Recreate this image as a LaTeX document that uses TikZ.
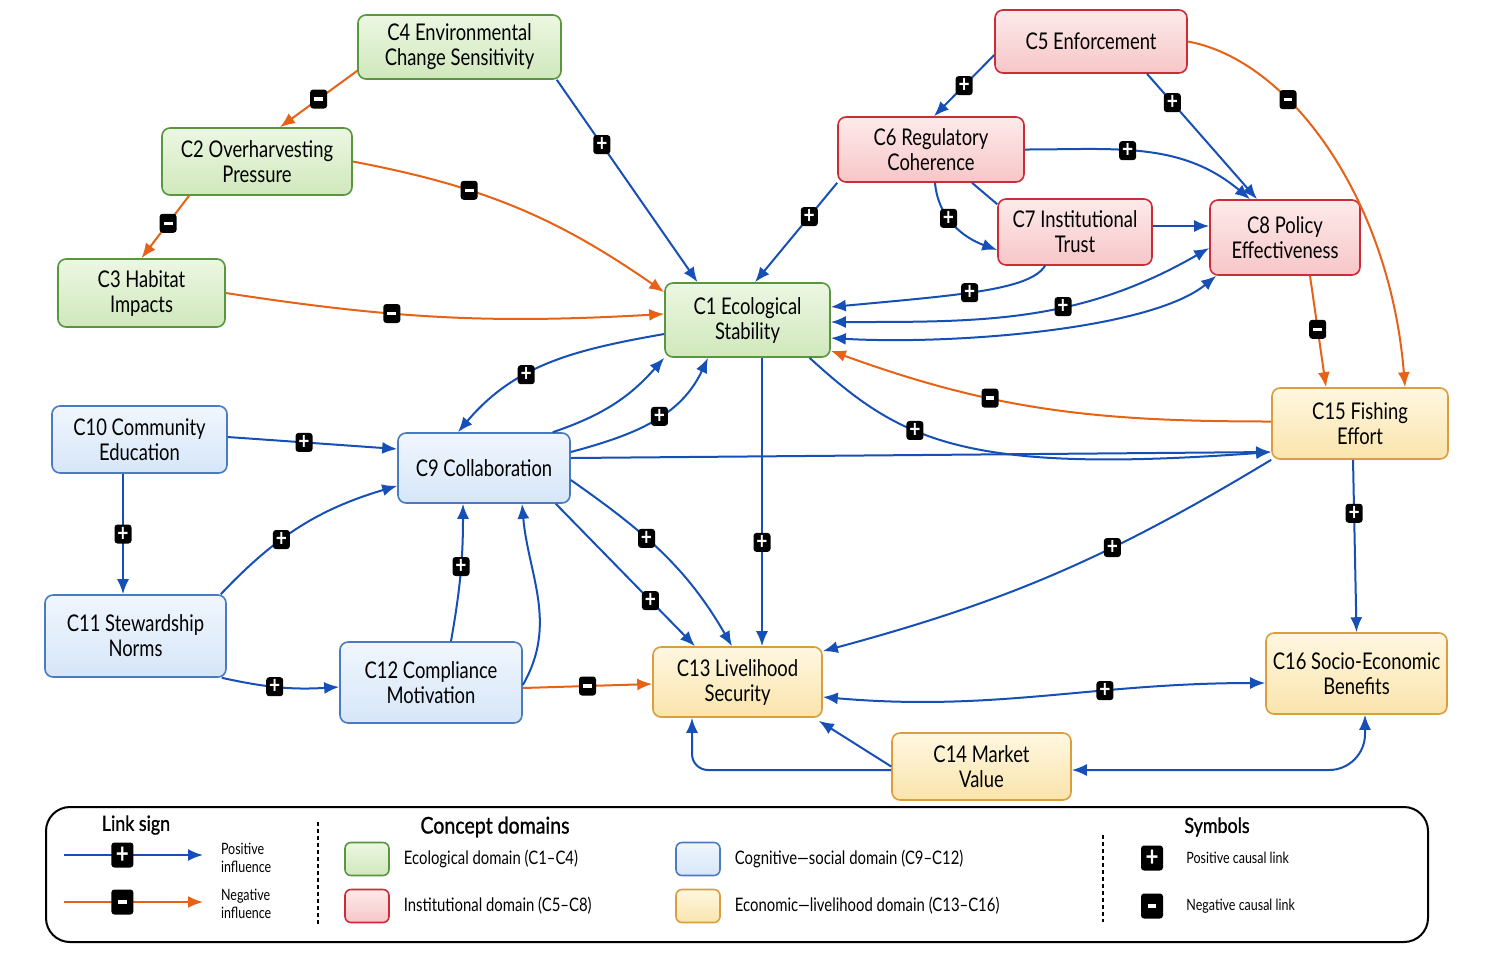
\documentclass[tikz,border=0pt]{standalone}
\usepackage{fontspec}
\setmainfont{Lato}[FakeStretch=0.8]
\newfontfamily\headfont{Lato}[FakeStretch=0.85, FakeBold=1]
\usepackage{xcolor}
\usepackage{tikz}
\usetikzlibrary{arrows.meta, calc, positioning}

\definecolor{linkblue}{RGB}{22,80,182}
\definecolor{linkorange}{RGB}{230,98,22}
\definecolor{ecoline}{RGB}{88,150,64}
\definecolor{ecotop}{RGB}{236,247,226}
\definecolor{ecobot}{RGB}{208,232,188}
\definecolor{instline}{RGB}{204,44,56}
\definecolor{insttop}{RGB}{253,234,234}
\definecolor{instbot}{RGB}{247,198,200}
\definecolor{cogline}{RGB}{74,122,192}
\definecolor{cogtop}{RGB}{240,246,253}
\definecolor{cogbot}{RGB}{214,230,248}
\definecolor{econline}{RGB}{218,158,62}
\definecolor{econtop}{RGB}{254,247,224}
\definecolor{econbot}{RGB}{250,228,172}

\newcommand{\negbar}{\rule{4.4pt}{1.6pt}}

\tikzset{
  concept/.style={draw, rounded corners=4pt, line width=0.8pt, align=center,
    inner sep=2pt, font=\fontsize{11.5}{12.5}\selectfont},
  eco/.style={concept, draw=ecoline, top color=ecotop, bottom color=ecobot},
  inst/.style={concept, draw=instline, top color=insttop, bottom color=instbot},
  cog/.style={concept, draw=cogline, top color=cogtop, bottom color=cogbot},
  econ/.style={concept, draw=econline, top color=econtop, bottom color=econbot},
  plink/.style={draw=linkblue, line width=1pt, ->},
  nlink/.style={draw=linkorange, line width=1pt, ->},
  sgn/.style={fill=black, text=white, rounded corners=1.5pt, inner sep=0pt,
    minimum width=8.5pt, minimum height=9.5pt, font=\bfseries\fontsize{12}{12}\selectfont},
  sgnbig/.style={sgn, minimum width=11pt, minimum height=12.5pt, font=\bfseries\fontsize{14}{14}\selectfont},
  legtext/.style={font=\fontsize{9.3}{10}\selectfont},
  legsmall/.style={font=\fontsize{7.8}{9.3}\selectfont, align=left},
}

\begin{document}
\begin{tikzpicture}[x=0.5pt, y=-0.5pt, >={Latex[length=7.5pt,width=6pt]}]
    \fill[white] (0,0) rectangle (1491,954);
    \useasboundingbox (0,0) rectangle (1491,954);

    % Ecological domain
    \node[eco, minimum width=101.5pt, minimum height=32pt] (c4) at (459.5,47) {C4 Environmental\\Change Sensitivity};
    \node[eco, minimum width=95pt, minimum height=33.5pt] (c2) at (257,161.5) {C2 Overharvesting\\Pressure};
    \node[eco, minimum width=83.5pt, minimum height=34pt] (c3) at (141.5,293) {C3 Habitat\\Impacts};
    \node[eco, minimum width=82.5pt, minimum height=37pt] (c1) at (747.5,320) {C1 Ecological\\Stability};

    % Institutional domain
    \node[inst, minimum width=96pt, minimum height=31.5pt] (c5) at (1091,41.5) {C5 Enforcement};
    \node[inst, minimum width=93pt, minimum height=32.5pt] (c6) at (931,149.5) {C6 Regulatory\\Coherence};
    \node[inst, minimum width=77pt, minimum height=33pt] (c7) at (1075,232) {C7 Institutional\\Trust};
    \node[inst, minimum width=75pt, minimum height=37.5pt] (c8) at (1285,237.5) {C8 Policy\\Effectiveness};

    % Cognitive-social domain
    \node[cog, minimum width=86pt, minimum height=35pt] (c9) at (484,468) {C9 Collaboration};
    \node[cog, minimum width=87.5pt, minimum height=33.5pt] (c10) at (139.5,439.5) {C10 Community\\Education};
    \node[cog, minimum width=90.5pt, minimum height=41pt] (c11) at (135.5,636) {C11 Stewardship\\Norms};
    \node[cog, minimum width=91pt, minimum height=40.5pt] (c12) at (431,682.5) {C12 Compliance\\Motivation};

    % Economic-livelihood domain
    \node[econ, minimum width=84.5pt, minimum height=35pt] (c13) at (737.5,682) {C13 Livelihood\\Security};
    \node[econ, minimum width=89.5pt, minimum height=33.5pt] (c14) at (981.5,766.5) {C14 Market\\Value};
    \node[econ, minimum width=88pt, minimum height=35.5pt] (c15) at (1360,423.5) {C15 Fishing\\Effort};
    \node[econ, minimum width=90.5pt, minimum height=40.5pt] (c16) at (1356.5,673.5) {C16 Socio-Economic\\Benefits};

    % Links from the ecological concepts
    \draw[nlink] ([yshift=4.5pt]c4.south west) -- node[sgn]{\negbar} ([xshift=11.5pt]c2.north);
    \draw[nlink] ([xshift=-34pt]c2.south) -- node[sgn,pos=.44]{\negbar} (c3.north);
    \draw[plink] ([xshift=-2.5pt]c4.south east) -- node[sgn,pos=.32]{+} ([xshift=-25pt]c1.north);
    \draw[nlink] (c2.east) to[bend left=12] node[sgn,pos=.34]{\negbar} ([yshift=-5pt]c1.north west);
    \draw[nlink] (c3.east) to[bend right=6] node[sgn,pos=.37]{\negbar} ([yshift=3pt]c1.west);

    % Links from the institutional concepts
    \draw[plink] ([yshift=-6.75pt]c5.west) -- node[sgn]{+} ([xshift=1.5pt]c6.north);
    \draw[plink] ([xshift=28pt]c5.south) -- node[sgn,pos=.23]{+} ([xshift=-14pt]c8.north);
    \draw[nlink] (c5.east) .. controls (1290,60) and (1390,200) .. ([xshift=22.5pt]c15.north)
        node[sgn,pos=.34]{\negbar};
    \draw[plink] (c6.south west) -- node[sgn,pos=.34]{+} ([xshift=3.75pt]c1.north);
    \draw[plink] (c6.east) to[out=0, in=140] node[sgn,pos=.42]{+} ([xshift=-17.5pt]c8.north);
    \draw[plink] ([xshift=2pt]c6.south) to[out=-85, in=160] node[sgn,pos=.4]{+} ([yshift=-9pt]c7.west);
    \draw[linkblue, line width=1pt] ([xshift=20.5pt]c6.south) -- ([yshift=-3pt]c7.north west);
    \draw[plink] ([yshift=3pt]c7.east) -- ([yshift=5.75pt]c8.west);
    \draw[plink] ([xshift=-15pt]c7.south) .. controls (1030,290) and (960,295) .. ([yshift=6.5pt]c1.east)
        node[sgn,pos=.55]{+};
    \draw[plink, <->] ([yshift=-5.25pt]c8.west) to[out=-150, in=0] node[sgn,pos=.4]{+} ([yshift=-1pt]c1.east);
    \draw[plink, <->] ([xshift=3.5pt]c8.south west) .. controls (1150,330) and (950,345) .. ([yshift=-9pt]c1.east);
    \draw[nlink] ([xshift=12.5pt]c8.south) -- node[sgn,pos=.48]{\negbar} ([xshift=-17pt]c15.north);

    % Fishing effort and ecological stability
    \draw[nlink] ([yshift=1pt]c15.west) to[out=180, in=-20] node[sgn,pos=.64]{\negbar} ([yshift=3.5pt]c1.south east);
    \draw[plink] ([yshift=5pt]c9.east) -- ([yshift=-14.25pt]c15.west);
    \draw[plink] ([xshift=31pt]c1.south) .. controls (900,440) and (960,475) .. ([yshift=-14.25pt]c15.west)
        node[sgn,pos=.38]{+};
    \draw[plink] ([xshift=7.25pt]c1.south) -- node[sgn,pos=.64]{+} ([xshift=12.25pt]c13.north);

    % Links around collaboration
    \draw[plink] ([yshift=-7pt]c1.west) to[out=190, in=50] node[sgn,pos=.62]{+} ([xshift=-13pt]c9.north);
    \draw[plink] ([xshift=-9pt]c9.north east) to[bend right=15] (c1.south west);
    \draw[plink] ([yshift=8pt]c9.east) to[out=15, in=-115] node[sgn,pos=.55]{+} ([xshift=-19.75pt]c1.south);
    \draw[plink] ([yshift=1.25pt]c10.east) -- node[sgn,pos=.45]{+} ([yshift=9.5pt]c9.west);
    \draw[plink] ([xshift=-8.25pt]c10.south) -- node[sgn]{+} ([xshift=-6.25pt]c11.north);
    \draw[plink] ([xshift=-3pt]c11.north east) to[bend left=15] node[sgn,pos=.38]{+} ([yshift=9pt]c9.south west);
    \draw[plink] ([xshift=-2.5pt]c11.south east) to[bend right=8] node[sgn,pos=.45]{+} ([yshift=-2.25pt]c12.west);
    \draw[plink] ([xshift=10pt]c12.north) to[out=80, in=-90] node[sgn,pos=.55]{+} ([xshift=-10.5pt]c9.south);
    \draw[plink] ([yshift=-1.25pt]c12.east) to[out=60, in=-85] ([xshift=19pt]c9.south);
    \draw[nlink] ([yshift=-2.75pt]c12.east) -- node[sgn]{\negbar} ([yshift=-1pt]c13.west);
    \draw[plink] ([xshift=-7.5pt]c9.south east) -- node[sgn,pos=.68]{+} ([xshift=-21.25pt]c13.north);
    \draw[plink] ([yshift=-6pt]c9.east) to[out=-35, in=120] node[sgn,pos=.4]{+} ([xshift=-2.75pt]c13.north);

    % Economic links
    \draw[plink] (c15.south west) to[bend left=8] node[sgn,pos=.36]{+} ([yshift=-2.5pt]c13.north east);
    \draw[plink] ([xshift=-3.5pt]c15.south) -- node[sgn,pos=.31]{+} (c16.north);
    \draw[plink, <->] ([yshift=-7.5pt]c13.east) to[out=-5, in=180] node[sgn,pos=.65]{+} ([yshift=-4.75pt]c16.west);
    \draw[plink] (c14.west) -- ([xshift=-2pt,yshift=-1.5pt]c13.south east);
    \draw[plink, rounded corners=8pt] ([yshift=-1.75pt]c14.west) -| ([xshift=-22.75pt]c13.south);
    \draw[plink, <->, rounded corners=18pt] ([yshift=-1.75pt]c14.east) -| ([xshift=4.25pt]c16.south);

    % Legend
    \draw[line width=1pt, rounded corners=12pt] (46,807) rectangle (1428,942);
    \node (lgsign) at (136,825) {\headfont\fontsize{10.5}{12}\selectfont Link sign};
    \coordinate (lgp1) at (64,855);
    \coordinate (lgp2) at (203,855);
    \coordinate (lgn1) at (64,902);
    \coordinate (lgn2) at (203,902);
    \draw[plink] (lgp1) -- node[sgnbig,pos=.42]{+} (lgp2);
    \draw[nlink] (lgn1) -- node[sgnbig,pos=.42]{\negbar} (lgn2);
    \node[legsmall, anchor=west] (lgpos) at (214,858) {Positive\\influence};
    \node[legsmall, anchor=west] (lgneg) at (214,904) {Negative\\influence};
    \draw[dashed, dash pattern=on 2pt off 1.5pt, line width=0.6pt] (318,822) -- (318,925);

    \node (lgdom) at (495,827) {\headfont\fontsize{11.5}{13}\selectfont Concept domains};
    \node[eco, minimum width=22pt, minimum height=16.5pt, rounded corners=3pt] (sweco) at (367,859) {};
    \node[inst, minimum width=22pt, minimum height=16.5pt, rounded corners=3pt] (swinst) at (367,906) {};
    \node[cog, minimum width=22pt, minimum height=16.5pt, rounded corners=3pt] (swcog) at (698,859) {};
    \node[econ, minimum width=22pt, minimum height=16.5pt, rounded corners=3pt] (swecon) at (698,906) {};
    \node[legtext, right=3.5pt of sweco] (lgeco) {Ecological domain (C1–C4)};
    \node[legtext, right=3.5pt of swinst] (lginst) {Institutional domain (C5–C8)};
    \node[legtext, right=3.5pt of swcog] (lgcog) {Cognitive—social domain (C9–C12)};
    \node[legtext, right=3.5pt of swecon] (lgecon) {Economic—livelihood domain (C13–C16)};
    \draw[dashed, dash pattern=on 2pt off 1.5pt, line width=0.6pt] (1103,835) -- (1103,922);

    \node (lgsym) at (1217,827) {\headfont\fontsize{10.5}{12}\selectfont Symbols};
    \node[sgnbig] (symp) at (1152,858) {+};
    \node[sgnbig] (symn) at (1152,906) {\negbar};
    \node[legsmall, right=8pt of symp] (lgsymp) {Positive causal link};
    \node[legsmall, right=8pt of symn] (lgsymn) {Negative causal link};
\end{tikzpicture}
\end{document}
